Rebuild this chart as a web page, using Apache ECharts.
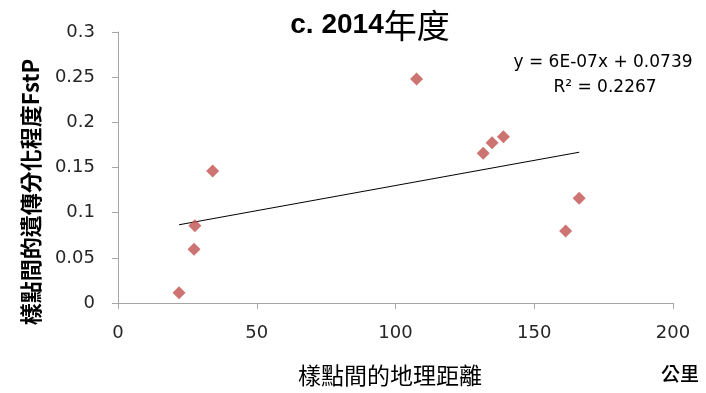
<!DOCTYPE html>
<html>
<head>
<meta charset="utf-8">
<script src="https://cdn.jsdelivr.net/npm/echarts@6/dist/echarts.min.js"></script>
<style>
  html, body { margin: 0; padding: 0; background: #fff; }
  #chart { width: 706px; height: 393px; }
</style>
</head>
<body>
<div id="chart"></div>
<script>
// Geographic distance between sample sites (km) and genetic differentiation FstP
const distanceKm = [22.0, 27.4, 27.7, 34.1, 107.6, 131.6, 134.8, 138.9, 161.3, 166.2];
const fstP = [0.0114, 0.0595, 0.0856, 0.146, 0.248, 0.1658, 0.1775, 0.184, 0.0797, 0.116];

const xTicks = [0, 50, 100, 150, 200];
const yTicks = [0, 0.05, 0.1, 0.15, 0.2, 0.25, 0.3];

const titleMain = 'c. 2014';
const titleSuffix = '年度';
const xName = '樣點間的地理距離';
const xUnit = '公里';
const yName = '樣點間的遺傳分化程度FstP';
const equationText = 'y = 6E-07x + 0.0739';
const r2Text = 'R² = 0.2267';

// Least-squares linear trend over the plotted points
function linearFit(xs, ys) {
  const n = xs.length;
  const mx = xs.reduce((a, b) => a + b, 0) / n;
  const my = ys.reduce((a, b) => a + b, 0) / n;
  let sxy = 0, sxx = 0;
  for (let i = 0; i < n; i++) {
    sxy += (xs[i] - mx) * (ys[i] - my);
    sxx += (xs[i] - mx) * (xs[i] - mx);
  }
  const slope = sxy / sxx;
  return { slope, intercept: my - slope * mx };
}
const fit = linearFit(distanceKm, fstP);
const xMin = Math.min(...distanceKm), xMax = Math.max(...distanceKm);
const trendData = [[xMin, fit.intercept + fit.slope * xMin], [xMax, fit.intercept + fit.slope * xMax]];

const points = distanceKm.map((x, i) => [x, fstP[i]]);

const tickFont = { fontFamily: 'DejaVu Sans', fontSize: 18, color: '#262626' };
const axisGrey = '#a6a6a6';

const chart = echarts.init(document.getElementById('chart'), null, { renderer: 'canvas' });
chart.setOption({
  animation: false,
  backgroundColor: '#fff',
  grid: { left: 118, right: 33, top: 32, bottom: 90, containLabel: false },
  xAxis: {
    type: 'value',
    min: xTicks[0], max: xTicks[xTicks.length - 1], interval: 50,
    axisLine: { show: true, onZero: false, lineStyle: { color: axisGrey, width: 1 } },
    axisTick: { show: true, length: 6, inside: false, lineStyle: { color: axisGrey } },
    splitLine: { show: false },
    axisLabel: Object.assign({ margin: 21 }, tickFont)
  },
  yAxis: {
    type: 'value',
    min: yTicks[0], max: yTicks[yTicks.length - 1], interval: 0.05,
    axisLine: { show: true, onZero: false, lineStyle: { color: axisGrey, width: 1 } },
    axisTick: { show: true, length: 6, inside: false, lineStyle: { color: axisGrey } },
    splitLine: { show: false },
    axisLabel: Object.assign({ margin: 23, formatter: v => String(+v.toFixed(2)) }, tickFont)
  },
  series: [
    {
      type: 'line',
      data: trendData,
      symbol: 'none',
      lineStyle: { color: '#000', width: 1 },
      silent: true,
      z: 1
    },
    {
      type: 'scatter',
      data: points,
      symbol: 'diamond',
      symbolSize: 13,
      itemStyle: { color: '#C0504D' },
      z: 2
    }
  ],
  graphic: [
    {
      type: 'text', x: 370, y: 25,
      style: {
        rich: {
          a: { fontFamily: 'Liberation Sans', fontWeight: 'bold', fontSize: 28, fill: '#000' },
          b: { fontFamily: 'Noto Sans CJK TC', fontSize: 33, fill: '#000' }
        },
        text: '{a|' + titleMain + '}{b|' + titleSuffix + '}',
        align: 'center', verticalAlign: 'middle'
      }
    },
    {
      type: 'text',
      x: 31, y: 192, rotation: Math.PI / 2,
      style: {
        text: yName,
        fontFamily: 'Noto Sans CJK TC', fontWeight: 'bold', fontSize: 22, fill: '#000',
        align: 'center', verticalAlign: 'middle'
      }
    },
    {
      type: 'text',
      x: 390, y: 375,
      style: {
        text: xName,
        fontFamily: 'Noto Sans CJK TC', fontSize: 23, fill: '#000',
        align: 'center', verticalAlign: 'middle'
      }
    },
    {
      type: 'text',
      x: 680, y: 374,
      style: {
        text: xUnit,
        fontFamily: 'Noto Sans CJK TC', fontWeight: 500, fontSize: 19, fill: '#000',
        align: 'center', verticalAlign: 'middle'
      }
    },
    {
      type: 'text',
      x: 603, y: 63,
      style: {
        text: equationText,
        fontFamily: 'DejaVu Sans', fontSize: 17, fill: '#000',
        align: 'center', verticalAlign: 'middle'
      }
    },
    {
      type: 'text',
      x: 605, y: 88,
      style: {
        text: r2Text,
        fontFamily: 'DejaVu Sans', fontSize: 17, fill: '#000',
        align: 'center', verticalAlign: 'middle'
      }
    }
  ]
});
</script>
</body>
</html>
